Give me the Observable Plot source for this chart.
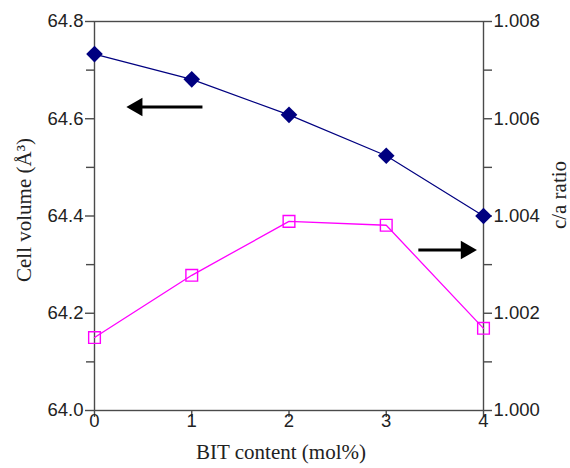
<!DOCTYPE html>
<html>
<head>
<meta charset="utf-8">
<script src="https://cdn.jsdelivr.net/npm/d3@7"></script>
<script src="https://cdn.jsdelivr.net/npm/@observablehq/plot@0.6"></script>
<style>
  html, body { margin: 0; padding: 0; background: #fff; }
  #chart { width: 570px; height: 468px; }
</style>
</head>
<body>
<div id="chart"></div>
<script>
// ---- data ----
const bitContent = [0, 1, 2, 3, 4];                              // mol%
const cellVolume = [64.733, 64.681, 64.608, 64.524, 64.400];     // Å³ (left axis)
const caRatio    = [1.0015, 1.00278, 1.00389, 1.00381, 1.00169]; // c/a (right axis)

const leftTicks  = [64.0, 64.2, 64.4, 64.6, 64.8];
const leftMinor  = [64.1, 64.3, 64.5, 64.7];
const rightTicks = [1.000, 1.002, 1.004, 1.006, 1.008];
const rightMinor = [1.001, 1.003, 1.005, 1.007];
const xTicks     = [0, 1, 2, 3, 4];

// annotation arrows (x in mol%, y in cell-volume units)
const arrowLeft  = {tail: 1.11, shaftEnd: 0.42, tip: 0.33, y: 64.624};
const arrowRight = {tail: 3.33, shaftEnd: 3.84, tip: 3.93, y: 64.330};

// map c/a domain onto the left (cell volume) scale
const caMin = 1.000, caMax = 1.008, vMin = 64.0, vMax = 64.8;
const caToV = c => vMin + (c - caMin) / (caMax - caMin) * (vMax - vMin);
const vToCa = v => caMin + (v - vMin) / (vMax - vMin) * (caMax - caMin);

const volData = bitContent.map((x, i) => ({x, v: cellVolume[i]}));
const caData  = bitContent.map((x, i) => ({x, v: caToV(caRatio[i])}));
const arrows = [arrowLeft, arrowRight];

const axisColor = "#4a4a4a";
const tickFont = "Liberation Sans, Arial, sans-serif";
const titleFont = "Liberation Serif, Times New Roman, serif";
const tickSizePx = 18.5;
const titleSizePx = 21;

const chart = Plot.plot({
  width: 570,
  height: 468,
  marginLeft: 94,
  marginRight: 87,
  marginTop: 21,
  marginBottom: 58,
  style: {fontFamily: tickFont, fontSize: tickSizePx + "px", color: "#222", background: "#fff"},
  x: {domain: [0, 4]},
  y: {domain: [vMin, vMax]},
  marks: [
    Plot.frame({stroke: axisColor, strokeWidth: 1.4}),
    // x axis
    Plot.axisX({ticks: xTicks, tickFormat: d => String(d), tickSize: 7, tickPadding: -4,
                stroke: axisColor, strokeWidth: 1.4, fontSize: tickSizePx, label: null}),
    // left axis
    Plot.axisY({ticks: leftTicks, tickFormat: d => d.toFixed(1), tickSize: 9, tickPadding: 2,
                anchor: "left", stroke: axisColor, strokeWidth: 1.4, fontSize: tickSizePx, label: null}),
    Plot.axisY({ticks: leftMinor, tickFormat: () => "", tickSize: 8,
                anchor: "left", stroke: axisColor, strokeWidth: 1.4, label: null}),
    // right axis (c/a), drawn on the same scale through caToV
    Plot.axisY({ticks: rightTicks.map(caToV), tickFormat: d => vToCa(d).toFixed(3),
                tickSize: 8, tickPadding: 2, anchor: "right", stroke: axisColor, strokeWidth: 1.4, fontSize: tickSizePx, label: null}),
    Plot.axisY({ticks: rightMinor.map(caToV), tickFormat: () => "", tickSize: 8,
                anchor: "right", stroke: axisColor, strokeWidth: 1.4, label: null}),
    // axis titles
    Plot.text(["BIT content (mol%)"], {frameAnchor: "bottom", textAnchor: "middle", dy: 48, dx: -8, text: d => d,
                fontFamily: titleFont, fontSize: titleSizePx, fill: "#222"}),
    Plot.text(["Cell volume (Å³)"], {frameAnchor: "left", textAnchor: "middle", rotate: -90, dx: -70, dy: -6, text: d => d,
                fontFamily: titleFont, fontSize: titleSizePx, fill: "#222"}),
    Plot.text(["c/a ratio"], {frameAnchor: "right", textAnchor: "middle", rotate: -90, dx: 76, dy: -21, text: d => d,
                fontFamily: titleFont, fontSize: titleSizePx, fill: "#222"}),
    // series
    Plot.line(volData, {x: "x", y: "v", stroke: "#000080", strokeWidth: 1.2}),
    Plot.dot(volData, {x: "x", y: "v", symbol: "diamond2", r: 7.5, fill: "#000080", stroke: "none"}),
    Plot.line(caData, {x: "x", y: "v", stroke: "#ff00ff", strokeWidth: 1.3}),
    Plot.dot(caData, {x: "x", y: "v", symbol: "square", r: 6.6, fill: "none", stroke: "#ff00ff", strokeWidth: 1.4}),
    // arrows
    Plot.link(arrows, {x1: "tail", x2: "shaftEnd", y1: "y", y2: "y", stroke: "#000", strokeWidth: 3}),
    Plot.dot([arrowLeft], {x: "tip", y: "y", symbol: "triangle", r: 6.9, rotate: -90, dx: 10.5, fill: "#000", stroke: "none"}),
    Plot.dot([arrowRight], {x: "tip", y: "y", symbol: "triangle", r: 6.9, rotate: 90, dx: -10.5, fill: "#000", stroke: "none"})
  ]
});
document.getElementById("chart").appendChild(chart);
</script>
</body>
</html>
